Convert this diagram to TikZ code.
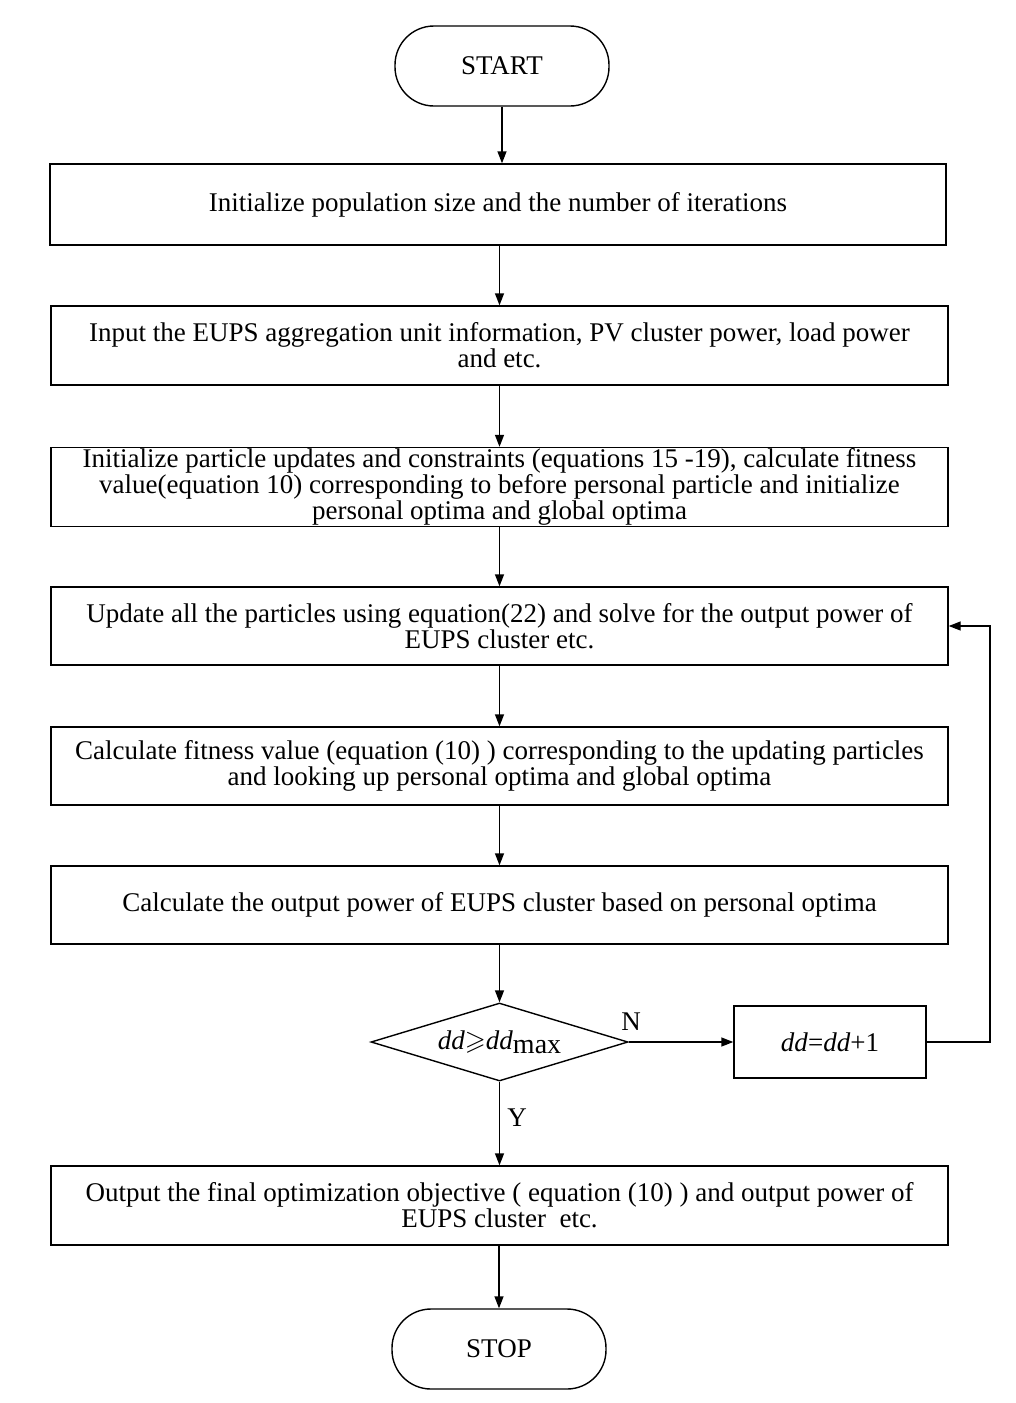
\documentclass[tikz,border=0pt]{standalone}
\usepackage{amssymb}
\usepackage{fontspec}
\setmainfont{Liberation Serif}
\usetikzlibrary{arrows.meta,shapes.geometric}
\begin{document}
\begin{tikzpicture}[x=1pt,y=-1pt,
  line/.style={line width=1.4pt},
  arr/.style={line, -{Triangle[length=12pt,width=9pt]}},
  procbox/.style={draw, line width=1.4pt, minimum width=897pt, minimum height=79pt, align=center, font=\fontsize{27}{26}\selectfont, inner sep=0pt},
  term/.style={draw, line width=1.4pt, minimum width=214pt, minimum height=80pt, rounded corners=39pt, font=\fontsize{27}{26}\selectfont, inner sep=0pt},
  lbl/.style={font=\fontsize{27}{26}\selectfont, inner sep=0pt}]
\useasboundingbox (0,0) rectangle (1015,1403);
\node[term] (start) at (502,66) {START};
\node[procbox, minimum width=896pt, minimum height=81pt] (b1) at (498,204.5) {Initialize population size and the number of iterations};
\node[procbox] (b2) at (499.5,345.5) {Input the EUPS aggregation unit information, PV cluster power, load power\\and etc.};
\node[procbox] (b3) at (499.5,487) {Initialize particle updates and constraints (equations 15 -19), calculate fitness\\value(equation 10) corresponding to before personal particle and initialize\\personal optima and global optima};
\node[procbox, minimum height=78pt] (b4) at (499.5,626) {Update all the particles using equation(22) and solve for the output power of\\EUPS cluster etc.};
\node[procbox, minimum height=78pt] (b5) at (499.5,766) {Calculate fitness value (equation (10) ) corresponding to the updating particles\\and looking up personal optima and global optima};
\node[procbox, minimum height=78pt] (b6) at (499.5,905) {Calculate the output power of EUPS cluster based on personal optima};
\node[draw, line width=1.4pt, diamond, aspect=3.3, minimum width=257pt, minimum height=78pt, inner sep=0pt, font=\fontsize{27}{26}\selectfont] (d) at (499.5,1042) {\textit{dd}$\geqslant$\textit{dd}\raisebox{-4pt}{\fontsize{28}{26}\selectfont max}};
\node[draw, line width=1.4pt, minimum width=192pt, minimum height=72pt, inner sep=0pt, font=\fontsize{27}{26}\selectfont] (inc) at (830,1042) {\textit{dd}=\textit{dd}+1};
\node[procbox] (b7) at (499.5,1205.5) {Output the final optimization objective ( equation (10) ) and output power of\\EUPS cluster\ \ etc.};
\node[term] (stop) at (499,1349) {STOP};
\coordinate (c1) at (990,1042);
\coordinate (c2) at (990,626);
\draw[arr] (start) -- (b1.north -| start);
\draw[arr] (b1.south -| b2) -- (b2);
\draw[arr] (b2) -- (b3);
\draw[arr] (b3) -- (b4);
\draw[arr] (b4) -- (b5);
\draw[arr] (b5) -- (b6);
\draw[arr] (b6) -- (d);
\draw[arr] (d) -- (b7);
\draw[arr] (b7.south -| stop) -- (stop);
\draw[arr] (d.east) -- (inc.west);
\draw[arr] (inc.east) -- (c1) -- (c2) -- (b4.east);
\node[lbl] (n) at (631,1022) {N};
\node[lbl] (y) at (517,1118) {Y};
\end{tikzpicture}
\end{document}
